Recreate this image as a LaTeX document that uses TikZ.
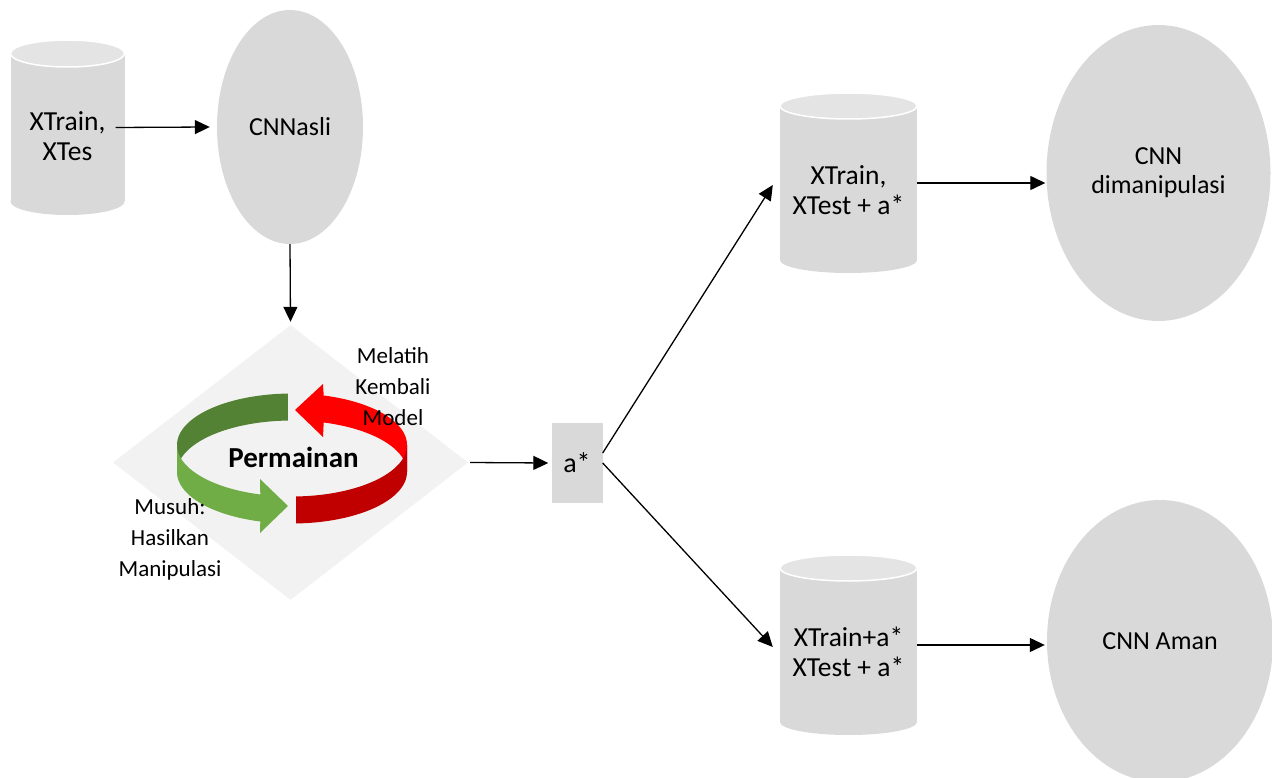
\documentclass[tikz,border=0pt]{standalone}
\usepackage{fontspec}
\setmainfont{Carlito}
\usetikzlibrary{arrows.meta,shapes.geometric}
\definecolor{boxgray}{HTML}{D9D9D9}
\definecolor{topgray}{HTML}{E4E4E4}
\definecolor{gamegray}{HTML}{F2F2F2}
\definecolor{greendark}{HTML}{548235}
\definecolor{greenlight}{HTML}{70AD47}
\definecolor{redbright}{HTML}{FF0000}
\definecolor{reddark}{HTML}{C00000}

\begin{document}
\begin{tikzpicture}[x=1pt,y=-1pt,
  flow/.style={line width=1.3pt,-{Triangle[length=15pt,width=14pt]}},
  model/.style={ellipse,fill=boxgray,inner sep=0pt,align=center,
    font=\fontsize{26}{29}\selectfont},
  cylbody/.style={fill=boxgray},
  cyltop/.style={fill=topgray,draw=white,line width=1.5pt},
  holder/.style={inner sep=0pt,rectangle},
  cyltext/.style={align=center,font=\fontsize{27.5}{30}\selectfont},
  sidelabel/.style={align=center,font=\fontsize{23}{31}\selectfont},
]
\useasboundingbox (0,0) rectangle (1272,778);
\clip (0,0) rectangle (1272,778);

% ---------- cylinder 1: training / test data ----------
\fill[cylbody] (10.5,53.5) rectangle (124.5,201.5);
\fill[cylbody] (67.5,201.5) ellipse [x radius=57pt,y radius=13.5pt];
\filldraw[cyltop] (67.5,53.5) ellipse [x radius=57pt,y radius=13.5pt];
\node[holder,minimum width=114pt,minimum height=175pt] (c1) at (67.5,127.5) {};
\node[cyltext] (c1t) at (67.5,136) {XTrain,\\XTes};

% ---------- original CNN ----------
\node[model,minimum width=146pt,minimum height=234pt] (asli) at (290,127) {CNNasli};

% ---------- game diamond ----------
\node[diamond,fill=gamegray,minimum width=355pt,minimum height=275pt,inner sep=0pt] (game) at (290.5,462.5) {};

% back halves of the ring
\fill[greendark] plot[domain=92:180,samples=40] ({292+115*cos(\x)},{445-51.5*sin(\x)})
  -- plot[domain=180:92,samples=40] ({292+115*cos(\x)},{472-51.5*sin(\x)}) -- cycle;
\fill[redbright] plot[domain=0:74,samples=40] ({292+115*cos(\x)},{445-51.5*sin(\x)})
  -- (323,384) -- (295,410) -- (323,437)
  -- plot[domain=74:0,samples=40] ({292+115*cos(\x)},{472-51.5*sin(\x)}) -- cycle;
% front halves of the ring
\fill[greenlight] plot[domain=180:254,samples=40] ({292+115*cos(\x)},{445-51.5*sin(\x)})
  -- (260,479) -- (288,506) -- (260,533)
  -- plot[domain=254:180,samples=40] ({292+115*cos(\x)},{472-51.5*sin(\x)}) -- cycle;
\fill[reddark] plot[domain=272:360,samples=40] ({292+115*cos(\x)},{445-51.5*sin(\x)})
  -- plot[domain=360:272,samples=40] ({292+115*cos(\x)},{472-51.5*sin(\x)}) -- cycle;

\node[font=\bfseries\fontsize{29}{32}\selectfont] (perm) at (293.5,457) {Permainan};
\node[sidelabel] (retrain) at (393,387) {Melatih\\Kembali\\Model};
\node[sidelabel] (adv) at (170,539) {Musuh:\\Hasilkan\\Manipulasi};

% ---------- perturbation ----------
\node[fill=boxgray,minimum width=51pt,minimum height=80pt,inner sep=0pt,
  font=\fontsize{28}{30}\selectfont] (astar) at (577,463) {a*};

% ---------- cylinder 2 ----------
\fill[cylbody] (780,106) rectangle (917,260);
\fill[cylbody] (848.5,260) ellipse [x radius=68.5pt,y radius=13pt];
\filldraw[cyltop] (848.5,106) ellipse [x radius=68.5pt,y radius=13pt];
\node[holder,minimum width=137pt,minimum height=180pt] (c2) at (848.5,183) {};
\node[cyltext] (c2t) at (848.5,190) {XTrain,\\XTest + a*};

% ---------- cylinder 3 ----------
\fill[cylbody] (780,568) rectangle (917,722);
\fill[cylbody] (848.5,722) ellipse [x radius=68.5pt,y radius=13pt];
\filldraw[cyltop] (848.5,568) ellipse [x radius=68.5pt,y radius=13pt];
\node[holder,minimum width=137pt,minimum height=180pt] (c3) at (848.5,645) {};
\node[cyltext] (c3t) at (848.5,652) {XTrain+a*\\XTest + a*};

% ---------- resulting models ----------
\node[model,minimum width=224pt,minimum height=296pt] (dim) at (1158.5,173) {CNN\\dimanipulasi};
\node[model,minimum width=226pt,minimum height=282pt] (aman) at (1160,641) {CNN Aman};

% ---------- connectors ----------
\draw[flow] ([xshift=-9pt]c1.east) -- ([xshift=-7pt]asli.west);
\draw[flow] (asli.south) -- ([yshift=3pt]game.north);
\draw[flow] ([xshift=2pt]game.east) -- ([xshift=-3pt]astar.west);
\draw[flow] ([yshift=10pt]astar.east) -- ([xshift=-7pt,yshift=-2pt]c2.west);
\draw[flow] (astar.east) -- ([xshift=-7pt,yshift=-2pt]c3.west);
\draw[flow] (c2.east) -- ([xshift=-1pt]c2.east -| dim.west);
\draw[flow] (c3.east) -- ([xshift=-2pt]c3.east -| aman.west);
\end{tikzpicture}
\end{document}
